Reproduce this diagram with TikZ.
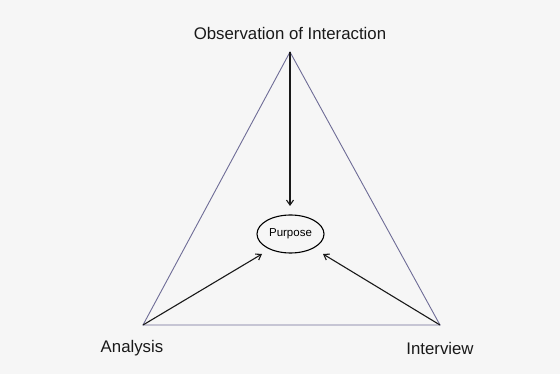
\documentclass[tikz,border=0pt]{standalone}
\usepackage{fontspec}
\setmainfont{Liberation Sans}
\usetikzlibrary{arrows.meta,shapes.geometric}
\definecolor{bg}{HTML}{F6F6F6}
\definecolor{edge}{HTML}{6E6C96}
\begin{document}
\begin{tikzpicture}[x=1pt,y=-1pt,
  lbl/.style={font=\fontsize{16.8}{19}\selectfont, text=black!90, inner sep=0pt},
  side/.style={draw=edge, line width=0.9pt},
  arr/.style={draw=black!90, line width=1.1pt, -{Straight Barb[length=5pt,width=7pt]}}]
\fill[bg] (0,0) rectangle (560,374);
\useasboundingbox (0,0) rectangle (560,374);
\coordinate (T) at (290,52);
\coordinate (L) at (143,325);
\coordinate (R) at (440,325);
\draw[side] (T) -- (L) -- (R) -- cycle;
\node[draw=black, line width=1.1pt, ellipse, minimum width=67pt, minimum height=38pt, inner sep=0pt, font=\fontsize{11.5}{13}\selectfont] (P) at (290.5,234) {Purpose};
\coordinate (Pt) at (290,206);
\coordinate (Pl) at (262,254);
\coordinate (Pr) at (323,254);
\draw[arr] (T) -- (Pt);
\draw[arr] (L) -- (Pl);
\draw[arr] (R) -- (Pr);
\node[lbl] (obs) at (290,33) {Observation of Interaction};
\node[lbl] (ana) at (132,348) {Analysis};
\node[lbl] (int) at (440,348) {Interview};
\end{tikzpicture}
\end{document}
